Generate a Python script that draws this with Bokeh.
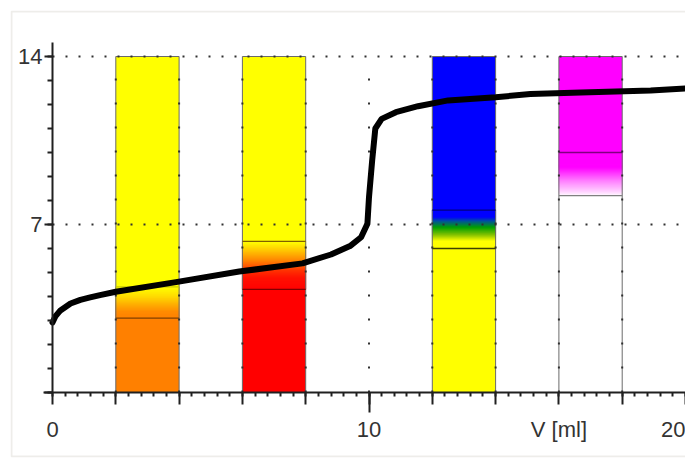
import numpy as np
from bokeh.plotting import figure
from bokeh.models import FixedTicker, BoxAnnotation, Range1d, LinearAxis
from bokeh.embed import file_html
from bokeh.resources import INLINE

# ---- titration curve ----
volume_ml = [0, 0.09, 0.25, 0.57, 0.88, 1.19, 1.5, 2.0, 3.9, 5.9, 7.9, 8.8, 9.4, 9.75, 9.95,
             10.0, 10.1, 10.2, 10.4, 10.85, 11.55, 12.5, 14.0, 15.1, 16.7, 18.9, 20.0]
ph_values = [2.92, 3.17, 3.42, 3.71, 3.86, 3.96, 4.06, 4.2, 4.6, 5.04, 5.38, 5.75, 6.1, 6.47, 7.03,
             8.14, 9.67, 11.0, 11.4, 11.68, 11.93, 12.17, 12.3, 12.44, 12.5, 12.58, 12.67]

# ---- indicator bars ----
bar_left = [2, 6, 12, 16]
bar_right = [4, 8, 14, 18]
bar_top = [14, 14, 14, 14]
range_low = [3.1, 4.3, 6.0, 8.2]
range_high = [4.4, 6.3, 7.6, 10.0]
acid_color = ["#FF8000", "#FF0000", "#FFFF00", "#FFFFFF"]
base_color = ["#FFFF00", "#FFFF00", "#0000FF", "#FF00FF"]
low_line_color = ["#804000", "#800000", "#404000", "#808080"]
high_line_color = ["#C8C800", "#806000", "#000080", "#800080"]
stop_ph = [[3.1, 3.4, 3.7, 4.0, 4.4],
           [4.3, 4.8, 5.1, 5.5, 5.9, 6.3],
           [6.0, 6.33, 6.6, 6.9, 7.17, 7.33, 7.6],
           [8.2, 8.4, 8.83, 9.4, 10.0]]
stop_color = [["#FF8000", "#FF8C00", "#FFB000", "#FFD800", "#FFFF00"],
              ["#FF0000", "#FF1000", "#FF3000", "#FF8000", "#FFC000", "#FFFF00"],
              ["#FFFF00", "#FFFF00", "#80C000", "#00A000", "#0050A0", "#0000FF", "#0000FF"],
              ["#FFFFFF", "#FFD0FF", "#FF80FF", "#FF00FF", "#FF00FF"]]

# ---- axes / grid ----
x_major = [0, 2, 4, 6, 8, 10, 12, 14, 16, 18, 20]
x_labels = {0: "0", 10: "10", 16: "V [ml]", 20: "20"}
y_major = [0, 7, 14]
y_labels = {7: "7", 14: "14"}
grid_x = [2, 4, 6, 8, 10, 12, 14, 16, 18]
grid_y = [7, 14]
x_max = 20
y_max = 14

FONT = "Liberation Sans"
TXT = "#333333"
PX_X = 633 / 20.0   # pixels per ml
PX_Y = 24.0         # pixels per pH unit

p = figure(width=685, height=460, output_backend="svg", toolbar_location=None,
           x_range=Range1d(-42 / PX_X, 20), y_range=Range1d(-65 / PX_Y, 382 / PX_Y))
p.title.visible = False
p.min_border_left = 10
p.min_border_right = 0
p.min_border_top = 10
p.min_border_bottom = 3
p.outline_line_color = None
p.background_fill_color = "white"
p.border_fill_color = "white"
p.grid.visible = False


def hex2rgb(h):
    return np.array([int(h[1:3], 16), int(h[3:5], 16), int(h[5:7], 16)], dtype=float)


def rgb2hex(c):
    return "#%02X%02X%02X" % tuple(int(round(v)) for v in c)


n_slices = 48
for i in range(len(bar_left)):
    p.quad(left=[bar_left[i]], right=[bar_right[i]], bottom=[0], top=[range_low[i]],
           fill_color=acid_color[i], line_color=None)
    p.quad(left=[bar_left[i]], right=[bar_right[i]], bottom=[range_high[i]], top=[bar_top[i]],
           fill_color=base_color[i], line_color=None)
    edges = np.linspace(range_low[i], range_high[i], n_slices + 1)
    mids = (edges[:-1] + edges[1:]) / 2
    rgbs = np.array([hex2rgb(c) for c in stop_color[i]])
    cols = [rgb2hex([np.interp(m, stop_ph[i], rgbs[:, k]) for k in range(3)]) for m in mids]
    p.quad(left=[bar_left[i]] * n_slices, right=[bar_right[i]] * n_slices,
           bottom=list(edges[:-1]), top=list(edges[1:]),
           fill_color=cols, line_color=cols, line_width=1)
    p.quad(left=[bar_left[i]], right=[bar_right[i]], bottom=[0], top=[bar_top[i]],
           fill_color=None, line_color="#6A6A6A", line_width=1)
    p.segment(x0=[bar_left[i]], x1=[bar_right[i]], y0=[range_low[i]], y1=[range_low[i]],
              line_color=low_line_color[i], line_width=1.3)
    p.segment(x0=[bar_left[i]], x1=[bar_right[i]], y0=[range_high[i]], y1=[range_high[i]],
              line_color=high_line_color[i], line_width=1.3)

# dotted grid lines (above the bars)
p.segment(x0=grid_x, x1=grid_x, y0=[0] * len(grid_x), y1=[y_max] * len(grid_x),
          line_color="#303030", line_width=2, line_dash="2 22")
p.segment(x0=[0] * len(grid_y), x1=[x_max] * len(grid_y), y0=grid_y, y1=grid_y,
          line_color="#303030", line_width=2, line_dash="2 11")

p.line(volume_ml, ph_values, line_color="black", line_width=6, line_join="round", line_cap="round")

# axes, placed at V = 0 and pH = 0 inside the frame
xa = p.xaxis[0]
xa.fixed_location = 0
xa.bounds = (-0.28, 20)
xa.ticker = FixedTicker(ticks=x_major, minor_ticks=[round(0.4 * k, 1) for k in range(51)])
xa.major_label_overrides = {t: x_labels.get(t, "") for t in x_major}
xa.major_tick_out = 12
xa.major_tick_in = 0
xa.minor_tick_out = 4
xa.minor_tick_in = 0
xa.major_label_standoff = 12

ya = p.yaxis[0]
ya.fixed_location = 0
ya.bounds = (0, 14.6)
ya.ticker = FixedTicker(ticks=y_major, minor_ticks=list(range(15)))
ya.major_label_overrides = {t: y_labels.get(t, "") for t in y_major}
ya.major_tick_out = 8
ya.major_tick_in = 0
ya.minor_tick_out = 5
ya.minor_tick_in = 0
ya.major_label_standoff = 2

# longer tick at 10 ml
xa10 = LinearAxis(fixed_location=0, ticker=FixedTicker(ticks=[10], minor_ticks=[]),
                  major_label_overrides={10: ""}, axis_line_color=None,
                  major_tick_out=20, major_tick_in=0, minor_tick_out=0)
p.add_layout(xa10, "below")

for ax in (xa, ya, xa10):
    ax.axis_line_width = 2
    ax.major_tick_line_color = "#202020"
    ax.minor_tick_line_color = "#202020"
    ax.major_tick_line_width = 2
    ax.minor_tick_line_width = 2
    ax.major_label_text_font = FONT
    ax.major_label_text_font_size = "22px"
    ax.major_label_text_color = TXT
xa.axis_line_color = "#202020"
ya.axis_line_color = "#202020"

# outer window frame
p.add_layout(BoxAnnotation(left=11, right=720, top=11, bottom=456,
                           left_units="canvas", right_units="canvas",
                           top_units="canvas", bottom_units="canvas",
                           fill_color=None, line_color="#C8C4B8", line_width=2))

open("out.html", "w").write(file_html(p, INLINE))
